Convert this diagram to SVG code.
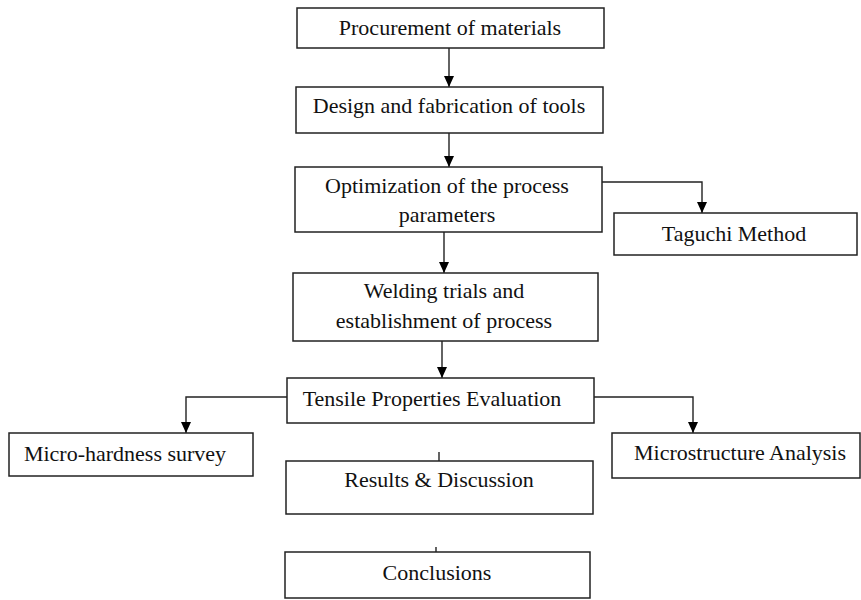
<svg xmlns="http://www.w3.org/2000/svg" width="861" height="600" viewBox="0 0 861 600">
<defs>
<marker id="arr" markerWidth="11" markerHeight="10" refX="11" refY="5" orient="auto" markerUnits="userSpaceOnUse" viewBox="0 0 11 10">
<path d="M0,0 L11,5 L0,10 Z" fill="#000"/>
</marker>
</defs>
<style>
rect{fill:#fff;stroke:#222;stroke-width:1.5}
text{font-family:"Liberation Serif","Times New Roman",serif;font-size:22px;fill:#111;text-anchor:middle}
.c{fill:none;stroke:#222;stroke-width:1.4}
.a{marker-end:url(#arr)}
</style>
<rect x="0" y="0" width="861" height="600" style="fill:#fff;stroke:none"/>
<g id="connectors">
<line class="c a" x1="449" y1="48" x2="449" y2="87"/>
<line class="c a" x1="449" y1="133" x2="449" y2="167"/>
<polyline class="c a" points="602,182 702,182 702,213"/>
<line class="c a" x1="444" y1="232" x2="444" y2="273"/>
<line class="c a" x1="442" y1="341" x2="442" y2="378"/>
<polyline class="c a" points="287,397 186,397 186,433"/>
<polyline class="c a" points="594,397 693,397 693,433"/>
<line class="c" x1="439" y1="452" x2="439" y2="461"/>
<line class="c" x1="436" y1="547" x2="436" y2="552"/>
</g>
<g id="n1"><rect x="297" y="8" width="307" height="40"/><text x="450" y="35">Procurement of materials</text></g>
<g id="n2"><rect x="296" y="87" width="307" height="46"/><text x="449" y="113">Design and fabrication of tools</text></g>
<g id="n3"><rect x="295" y="167" width="307" height="65"/><text x="447" y="193">Optimization of the process</text><text x="447" y="222">parameters</text></g>
<g id="n4"><rect x="614" y="213" width="243" height="42"/><text x="734" y="241">Taguchi Method</text></g>
<g id="n5"><rect x="293" y="273" width="305" height="68"/><text x="444" y="298">Welding trials and</text><text x="444" y="328">establishment of process</text></g>
<g id="n6"><rect x="287" y="378" width="307" height="45"/><text x="432" y="406">Tensile Properties Evaluation</text></g>
<g id="n7"><rect x="9" y="433" width="244" height="43"/><text x="125" y="461">Micro-hardness survey</text></g>
<g id="n8"><rect x="612" y="433" width="248" height="45"/><text x="740" y="460">Microstructure Analysis</text></g>
<g id="n9"><rect x="286" y="461" width="307" height="53"/><text x="439" y="487">Results &amp; Discussion</text></g>
<g id="n10"><rect x="285" y="552" width="305" height="46"/><text x="437" y="580">Conclusions</text></g>
</svg>
